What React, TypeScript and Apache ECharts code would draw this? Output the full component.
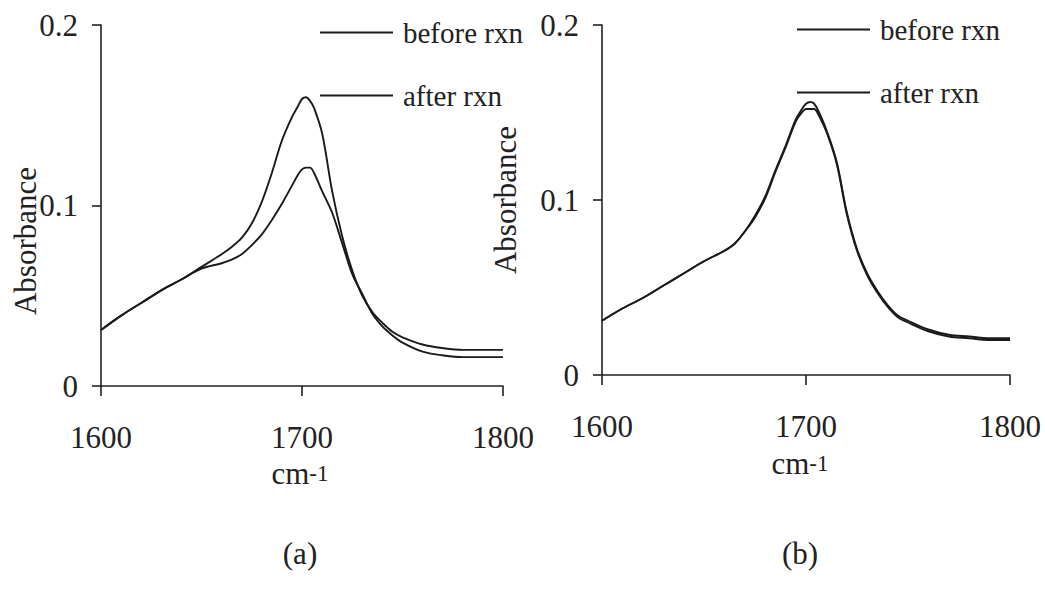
import React, { useEffect, useRef } from "react";
import * as echarts from "echarts";

// wavenumber grid (cm-1)
const wavenumbers = [
  1600, 1610, 1620, 1630, 1640, 1650, 1660, 1665, 1670, 1675, 1680, 1685, 1690,
  1695, 1698, 1700, 1702, 1704, 1706, 1710, 1715, 1720, 1725, 1730, 1735, 1740,
  1745, 1750, 1760, 1770, 1780, 1790, 1800,
];

// panel (a)
const aBefore = [
  0.031, 0.039, 0.046, 0.053, 0.059, 0.066, 0.073, 0.077, 0.082, 0.09, 0.102,
  0.118, 0.136, 0.149, 0.155, 0.159, 0.16, 0.158, 0.154, 0.14, 0.108, 0.083,
  0.064, 0.05, 0.041, 0.035, 0.03, 0.027, 0.023, 0.021, 0.02, 0.02, 0.02,
];
const aAfter = [
  0.031, 0.039, 0.046, 0.053, 0.059, 0.065, 0.068, 0.07, 0.073, 0.078, 0.084,
  0.092, 0.101, 0.111, 0.117, 0.12, 0.121, 0.121, 0.118, 0.108, 0.096, 0.079,
  0.062, 0.051, 0.04, 0.033, 0.028, 0.024, 0.019, 0.017, 0.016, 0.016, 0.016,
];

// panel (b)
const bBefore = [
  0.031, 0.038, 0.044, 0.051, 0.058, 0.065, 0.071, 0.075, 0.082, 0.091, 0.102,
  0.117, 0.131, 0.146, 0.152, 0.155, 0.156, 0.155, 0.151, 0.14, 0.122, 0.093,
  0.072, 0.058, 0.048, 0.04, 0.034, 0.031, 0.026, 0.023, 0.022, 0.021, 0.021,
];
const bAfter = [
  0.031, 0.038, 0.044, 0.051, 0.058, 0.065, 0.071, 0.075, 0.082, 0.09, 0.101,
  0.116, 0.13, 0.145, 0.15, 0.152, 0.152, 0.152, 0.149, 0.139, 0.121, 0.092,
  0.071, 0.057, 0.047, 0.039, 0.033, 0.03, 0.025, 0.022, 0.021, 0.02, 0.02,
];

const seriesNames = ["before rxn", "after rxn"];
const xTicks = { min: 1600, max: 1800, interval: 100 };
const yTicks = { min: 0, max: 0.2, interval: 0.1 };
const yAxisTitle = "Absorbance";
const panelLabels = ["(a)", "(b)"];

const FONT = "'Liberation Serif', 'Times New Roman', serif";
const INK = "#222222";

const zip = (xs: number[], ys: number[]) => xs.map((x, i) => [x, ys[i]]);

export default function App() {
  const ref = useRef<HTMLDivElement>(null);

  useEffect(() => {
    if (!ref.current) return;
    const chart = echarts.init(ref.current, undefined, { renderer: "svg" });

    const axisLine = { show: true, lineStyle: { color: INK, width: 1.6 } };
    const labelStyle = { color: INK, fontSize: 31, fontFamily: FONT };

    const makeX = (gridIndex: number) => ({
      type: "value" as const,
      gridIndex,
      ...xTicks,
      axisLine,
      axisTick: { show: true, inside: false, length: 10, lineStyle: { color: INK, width: 1.6 } },
      axisLabel: { ...labelStyle, margin: 36, formatter: (v: number) => String(v) },
      splitLine: { show: false },
    });
    const makeY = (gridIndex: number) => ({
      type: "value" as const,
      gridIndex,
      ...yTicks,
      axisLine,
      axisTick: { show: true, inside: false, length: 9, lineStyle: { color: INK, width: 1.6 } },
      axisLabel: { ...labelStyle, margin: 23, formatter: (v: number) => String(v) },
      splitLine: { show: false },
    });

    const lineSeries = (name: string, data: number[][], idx: number) => ({
      name,
      type: "line" as const,
      xAxisIndex: idx,
      yAxisIndex: idx,
      data,
      showSymbol: false,
      symbol: "none",
      smooth: 0.35,
      color: "#1a1a1a",
      lineStyle: { color: "#1a1a1a", width: 1.9 },
    });

    const legendBase = {
      orient: "vertical" as const,
      icon: "rect",
      padding: 0,
      itemWidth: 73,
      itemHeight: 2,
      itemGap: 34,
      selectedMode: false,
      textStyle: { color: INK, fontSize: 29, fontFamily: FONT, padding: [0, 0, 0, 5] },
      data: seriesNames,
    };

    const textEl = (x: number, y: number, text: string, size: number, rotation = 0) => ({
      type: "text",
      x,
      y,
      rotation,
      style: {
        text,
        fill: INK,
        font: `${size}px ${FONT}`,
        align: "center",
        verticalAlign: "middle",
      },
    });
    const unitEl = (x: number, y: number) => ({
      type: "text",
      x,
      y,
      style: {
        text: "{a|cm}{b|-1}",
        fill: INK,
        align: "center",
        verticalAlign: "middle",
        rich: {
          a: { fontSize: 31, fontFamily: FONT, fill: INK },
          b: { fontSize: 23, fontFamily: FONT, fill: INK },
        },
      },
    });

    chart.setOption({
      animation: false,
      backgroundColor: "#ffffff",
      textStyle: { fontFamily: FONT },
      grid: [
        { left: 101, top: 25, width: 402, height: 361 },
        { left: 602, top: 25, width: 408, height: 350 },
      ],
      xAxis: [makeX(0), makeX(1)],
      yAxis: [makeY(0), makeY(1)],
      legend: [
        { ...legendBase, left: 320, top: 18 },
        { ...legendBase, left: 797, top: 15 },
      ],
      series: [
        lineSeries(seriesNames[0], zip(wavenumbers, aBefore), 0),
        lineSeries(seriesNames[1], zip(wavenumbers, aAfter), 0),
        lineSeries(seriesNames[0], zip(wavenumbers, bBefore), 1),
        lineSeries(seriesNames[1], zip(wavenumbers, bAfter), 1),
      ],
      graphic: [
        textEl(25, 241, yAxisTitle, 31, Math.PI / 2),
        textEl(505, 200, yAxisTitle, 31, Math.PI / 2),
        unitEl(300, 473),
        unitEl(800, 463),
        textEl(300, 553, panelLabels[0], 31),
        textEl(800, 553, panelLabels[1], 31),
      ],
    });

    return () => chart.dispose();
  }, []);

  return (
    <div
      ref={ref}
      style={{ position: "fixed", left: 0, top: 0, width: 1045, height: 595, background: "#fff" }}
    />
  );
}
